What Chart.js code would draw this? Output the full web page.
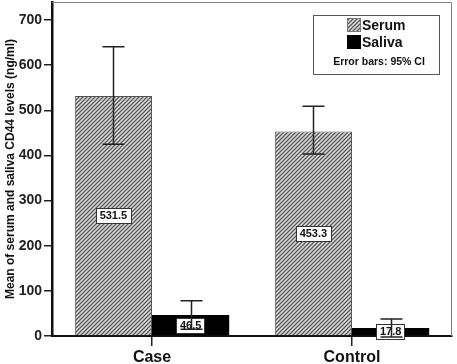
<!DOCTYPE html>
<html>
<head>
<meta charset="utf-8">
<script src="https://cdn.jsdelivr.net/npm/chart.js@4"></script>
<style>
html,body{margin:0;padding:0;background:#fff;}
#wrap{width:457px;height:364px;position:relative;}
</style>
</head>
<body>
<div id="wrap"><canvas id="c" width="457" height="364"></canvas></div>
<script>
const categories = ['Case', 'Control'];
const serumMeans = [531.5, 453.3];
const salivaMeans = [46.5, 17.8];
const serumCILow = [425, 403];
const serumCIHigh = [641, 509];
const salivaCILow = [15, -2];
const salivaCIHigh = [78, 37.6];
const yTicks = [0, 100, 200, 300, 400, 500, 600, 700];
const yTitle = 'Mean of serum and saliva CD44 levels (ng/ml)';
const legendLabels = ['Serum', 'Saliva'];
const legendNote = 'Error bars: 95% CI';

const FONT = '"Liberation Sans", Arial, sans-serif';

function makeHatch() {
  const t = document.createElement('canvas');
  t.width = 4; t.height = 4;
  const g = t.getContext('2d');
  g.fillStyle = '#e2e2e2';
  g.fillRect(0, 0, 4, 4);
  g.strokeStyle = '#555';
  g.lineWidth = 1.3;
  g.beginPath();
  g.moveTo(0, 4); g.lineTo(4, 0);
  g.moveTo(-1, 1); g.lineTo(1, -1);
  g.moveTo(3, 5); g.lineTo(5, 3);
  g.stroke();
  return document.getElementById('c').getContext('2d').createPattern(t, 'repeat');
}
const hatch = makeHatch();

const ciLow = [serumCILow, salivaCILow];
const ciHigh = [serumCIHigh, salivaCIHigh];

const overlay = {
  id: 'overlay',
  afterDatasetsDraw(chart) {
    const ctx = chart.ctx;
    const ys = chart.scales.y;
    const area = chart.chartArea;
    ctx.save();
    // frame top & right
    ctx.strokeStyle = '#808080';
    ctx.lineWidth = 1;
    ctx.beginPath();
    ctx.moveTo(area.left, area.top + 0.5);
    ctx.lineTo(area.right - 0.5, area.top + 0.5);
    ctx.lineTo(area.right - 0.5, area.bottom);
    ctx.stroke();

    // value labels
    ctx.font = 'bold 11px ' + FONT;
    ctx.textAlign = 'center';
    ctx.textBaseline = 'middle';
    chart.data.datasets.forEach((ds, di) => {
      const meta = chart.getDatasetMeta(di);
      meta.data.forEach((bar, i) => {
        const cy = (bar.y + bar.base) / 2;
        const txt = String(ds.data[i]);
        const w = ctx.measureText(txt).width + 7;
        const h = 15;
        ctx.fillStyle = '#fff';
        ctx.fillRect(Math.round(bar.x - w / 2) + 0.5, Math.round(cy - h / 2) + 0.5, Math.round(w), h);
        ctx.strokeStyle = '#333';
        ctx.lineWidth = 1;
        ctx.strokeRect(Math.round(bar.x - w / 2) + 0.5, Math.round(cy - h / 2) + 0.5, Math.round(w), h);
        ctx.fillStyle = '#111';
        ctx.fillText(txt, bar.x, cy + 0.5);
      });
    });

    // error bars
    ctx.strokeStyle = '#222';
    ctx.lineWidth = 1.5;
    chart.data.datasets.forEach((ds, di) => {
      const meta = chart.getDatasetMeta(di);
      meta.data.forEach((bar, i) => {
        const x = Math.round(bar.x) + 0.5;
        const yl = ys.getPixelForValue(ciLow[di][i]);
        const yh = ys.getPixelForValue(ciHigh[di][i]);
        ctx.beginPath();
        ctx.moveTo(x, yl); ctx.lineTo(x, yh);
        ctx.moveTo(x - 11, yh); ctx.lineTo(x + 11, yh);
        ctx.moveTo(x - 11, yl); ctx.lineTo(x + 11, yl);
        ctx.stroke();
      });
    });

    // legend
    const lx = 313, ly = 15, lw = 126, lh = 59;
    ctx.fillStyle = '#fff';
    ctx.fillRect(lx, ly, lw, lh);
    ctx.strokeStyle = '#555';
    ctx.lineWidth = 1;
    ctx.strokeRect(lx + 0.5, ly + 0.5, lw, lh);
    const swFill = [hatch, '#000'];
    const rowY = [25, 42];
    ctx.textAlign = 'left';
    ctx.textBaseline = 'middle';
    ctx.font = 'bold 14px ' + FONT;
    legendLabels.forEach((lab, k) => {
      ctx.fillStyle = swFill[k];
      ctx.fillRect(347, rowY[k] - 7, 14, 14);
      if (k === 0) {
        ctx.strokeStyle = '#777';
        ctx.strokeRect(347.5, rowY[k] - 6.5, 13, 13);
      }
      ctx.fillStyle = '#111';
      ctx.fillText(lab, 362, rowY[k] + 1);
    });
    ctx.font = 'bold 10.5px ' + FONT;
    ctx.textAlign = 'center';
    ctx.fillText(legendNote, 379, 62);
    ctx.restore();
  }
};

new Chart(document.getElementById('c'), {
  type: 'bar',
  data: {
    labels: categories,
    datasets: [
      { label: legendLabels[0], data: serumMeans, backgroundColor: hatch, borderColor: '#555', borderWidth: 1, barPercentage: 1, categoryPercentage: 0.772 },
      { label: legendLabels[1], data: salivaMeans, backgroundColor: '#000', borderColor: '#000', borderWidth: 0, barPercentage: 1, categoryPercentage: 0.772 }
    ]
  },
  options: {
    responsive: false,
    animation: false,
    devicePixelRatio: 1,
    layout: { padding: { top: 2, right: 5, left: 0, bottom: 0 } },
    plugins: { legend: { display: false }, tooltip: { enabled: false } },
    scales: {
      x: {
        grid: { drawOnChartArea: false, offset: false, drawTicks: true, tickLength: 10, color: '#222', lineWidth: 1.5 },
        border: { display: true, color: '#111', width: 2 },
        ticks: { color: '#111', font: { family: FONT, size: 16, weight: 'bold' }, padding: 2 },
        afterFit(s) { s.height = 28; s.paddingLeft = 0; s.paddingRight = 0; }
      },
      y: {
        min: 0, max: 740,
        afterBuildTicks(s) { s.ticks = yTicks.map(v => ({ value: v })); },
        grid: { drawOnChartArea: false, drawTicks: true, tickLength: 8, color: '#222', lineWidth: 1.5 },
        border: { display: true, color: '#111', width: 2.5 },
        ticks: { color: '#222', font: { family: FONT, size: 14, weight: 'bold' }, padding: 2 },
        title: { display: true, text: yTitle, color: '#111', font: { family: FONT, size: 12, weight: 'bold' }, padding: { top: 3, bottom: 0 } },
        afterFit(s) { s.width = 52; s.paddingTop = 0; s.paddingBottom = 0; }
      }
    }
  },
  plugins: [overlay]
});
</script>
</body>
</html>
